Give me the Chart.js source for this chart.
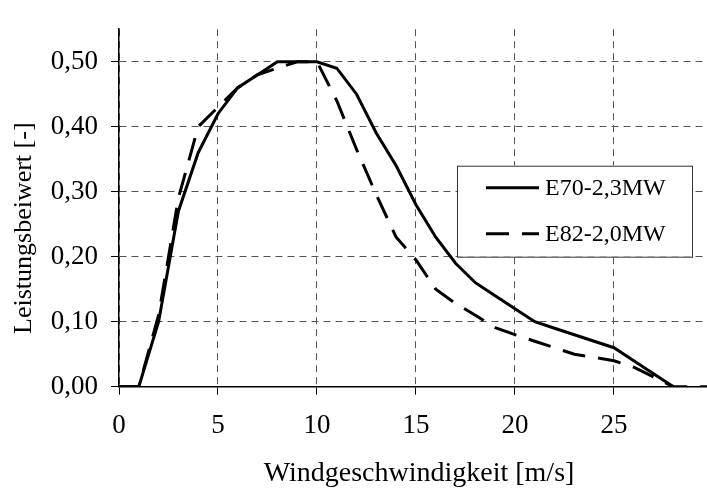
<!DOCTYPE html>
<html>
<head>
<meta charset="utf-8">
<script src="https://cdn.jsdelivr.net/npm/chart.js@4"></script>
<style>
  html, body { margin: 0; padding: 0; background: #fff; }
  #wrap { width: 707px; height: 489px; }
</style>
</head>
<body>
<div id="wrap"><canvas id="graph"></canvas></div>
<script>
// Leistungsbeiwert cp ueber Windgeschwindigkeit
var windSpeed = [0,1,2,3,4,5,6,7,8,9,10,11,12,13,14,15,16,17,18,19,20,21,22,23,24,25,26,27,28,29,30];
var cpE70 = [0,0,0.10,0.27,0.36,0.42,0.46,0.48,0.50,0.50,0.50,0.49,0.45,0.39,0.34,0.28,0.23,0.19,0.16,0.14,0.12,0.10,0.09,0.08,0.07,0.06,0.04,0.02,0];
var cpE82 = [0,0,0.11,0.29,0.40,0.43,0.46,0.48,0.49,0.50,0.50,0.44,0.365,0.295,0.23,0.195,0.15,0.128,0.11,0.091,0.08,0.07,0.06,0.05,0.045,0.04,0.03,0.015,0,0,0];
var seriesNames = ['E70-2,3MW', 'E82-2,0MW'];
var xTitle = 'Windgeschwindigkeit [m/s]';
var yTitle = 'Leistungsbeiwert [-]';

var FONT = '"Liberation Serif", "Times New Roman", serif';

function points(vals)
{
    var pts = [];
    for (var i = 0; i < vals.length; i++) pts.push({x: windSpeed[i], y: vals[i]});
    return pts;
}

// axis titles sit a bit off-centre, so they are drawn here
var axisTitles = {
    id: 'axisTitles',
    afterDraw: function(chart) {
        var ctx = chart.ctx, a = chart.chartArea;
        ctx.save();
        ctx.fillStyle = '#000';
        ctx.textAlign = 'center';
        ctx.textBaseline = 'alphabetic';
        ctx.font = '28px ' + FONT;
        ctx.fillText(xTitle, a.left + 300, 481);
        ctx.translate(31, a.top + 199);
        ctx.rotate(-Math.PI / 2);
        ctx.font = '26px ' + FONT;
        ctx.fillText(yTitle, 0, 0);
        ctx.restore();
    }
};

// legend box inside the plot, drawn by hand
var boxLegend = {
    id: 'boxLegend',
    afterDraw: function(chart) {
        var ctx = chart.ctx, a = chart.chartArea;
        var x0 = a.right - 250, y0 = a.top + 136.5, w = 235, h = 91;
        ctx.save();
        ctx.fillStyle = '#fff';
        ctx.fillRect(x0, y0, w, h);
        ctx.strokeStyle = '#333';
        ctx.lineWidth = 1;
        ctx.strokeRect(x0 + 0.5, y0 + 0.5, w, h);
        chart.data.datasets.forEach(function(ds, i) {
            var y = y0 + 22 + i * 46;
            ctx.beginPath();
            ctx.setLineDash(ds.borderDash || []);
            ctx.lineWidth = ds.borderWidth;
            ctx.strokeStyle = ds.borderColor;
            ctx.moveTo(x0 + 29, y);
            ctx.lineTo(x0 + 82, y);
            ctx.stroke();
            ctx.setLineDash([]);
            ctx.fillStyle = '#000';
            ctx.font = '24px ' + FONT;
            ctx.textBaseline = 'middle';
            ctx.textAlign = 'left';
            ctx.fillText(ds.label, x0 + 88, y + 1);
        });
        ctx.restore();
    }
};

var gridLook = {
    color: '#555',
    lineWidth: 1,
    tickLength: 8,
    tickColor: '#000',
    tickBorderDash: []
};

var graph = new Chart(document.getElementById('graph').getContext('2d'), {
    type: 'line',
    data: {
        datasets: [{
            label: seriesNames[0],
            data: points(cpE70),
            borderColor: '#000',
            borderWidth: 3,
            pointRadius: 0,
            tension: 0
        }, {
            label: seriesNames[1],
            data: points(cpE82),
            borderColor: '#000',
            borderWidth: 3,
            borderDash: [23, 13],
            pointRadius: 0,
            tension: 0
        }]
    },
    options: {
        responsive: true,
        maintainAspectRatio: false,
        animation: false,
        layout: { padding: { top: 16.7, right: 0, left: 0, bottom: 0 } },
        plugins: { legend: { display: false }, tooltip: { enabled: false } },
        scales: {
            x: {
                type: 'linear',
                min: 0,
                max: 29.7,
                grid: gridLook,
                border: { color: '#000', width: 1.5, dash: [7, 5] },
                ticks: {
                    stepSize: 5,
                    includeBounds: false,
                    padding: 15,
                    color: '#000',
                    font: { family: FONT, size: 27 },
                    maxRotation: 0
                },
                afterFit: function(s) { s.height = 102.3; }
            },
            y: {
                min: 0,
                max: 0.55,
                grid: gridLook,
                border: { color: '#000', width: 1.5, dash: [7, 5] },
                ticks: {
                    stepSize: 0.1,
                    includeBounds: false,
                    padding: 13,
                    color: '#000',
                    font: { family: FONT, size: 27 },
                    callback: function(v) { return v.toFixed(2).replace('.', ','); }
                },
                afterFit: function(s) { s.width = 119; }
            }
        }
    },
    plugins: [axisTitles, boxLegend]
});
</script>
</body>
</html>
